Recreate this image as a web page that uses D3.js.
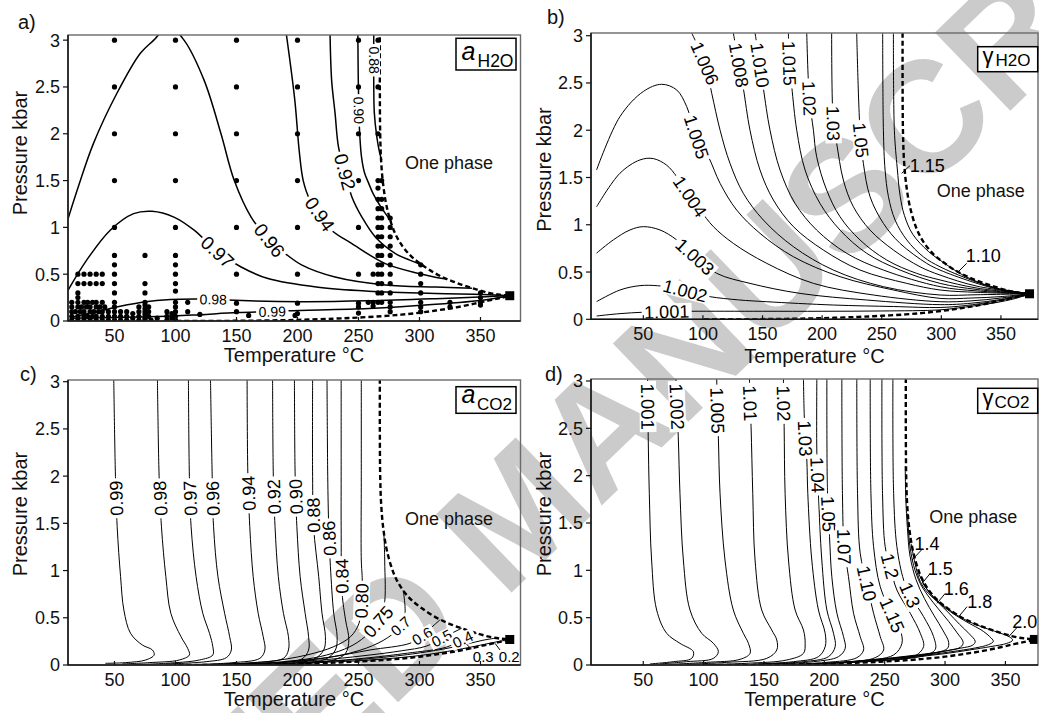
<!DOCTYPE html>
<html><head><meta charset="utf-8">
<script src="https://cdn.jsdelivr.net/npm/d3@7/dist/d3.min.js"></script>
<style>
html,body{margin:0;padding:0;background:#fff;}
svg{display:block;font-family:"Liberation Sans",Arial,Helvetica,sans-serif;}
</style></head><body>
<svg id="fig" width="1039" height="713"></svg>
<script>
// ---------------- shared data ----------------
const xTicks = [50,100,150,200,250,300,350];
const yTicks = [0,0.5,1,1.5,2,2.5,3];
const yTickLabels = ["0","0.5","1","1.5","2","2.5","3"];
const xTickLabels = ["50","100","150","200","250","300","350"];
const criticalPoint = [374,0.27];
const solvusUpper = [[267.5,3.03],[267.5,2.5],[267.8,2.0],[268.6,1.7],[270.3,1.45],[273.5,1.2],[279.5,0.95],[286,0.8],[293.3,0.69],[302,0.6],[312.7,0.51],[323,0.445],[334.8,0.387],[346,0.34],[356.9,0.3],[366,0.28],[374,0.27]];
const solvusLower = [[374,0.27],[366,0.245],[357,0.22],[345,0.185],[330,0.145],[315,0.115],[300,0.088],[285,0.068],[270,0.052],[250,0.037],[230,0.025],[200,0.012],[170,0.005],[140,0.0015],[100,0]];

// ---------------- panel a : a H2O ----------------
const aH2O_levels = ["0.88","0.90","0.92","0.94","0.96","0.97","0.98","0.99"];
const aH2O_lines = [
 [[262.5,3.06],[262.5,2.57],[263,2.22],[265,1.97],[267.3,1.8],[269,1.72]],
 [[249.5,3.06],[249.8,2.6],[250.3,2.25],[251,2.0],[252.5,1.75],[255,1.58],[258.4,1.47],[262,1.36],[266.6,1.255],[272,1.15],[277,1.06]],
 [[226.7,3.06],[228,2.57],[230.8,2.22],[233.6,1.86],[239,1.592],[244.6,1.325],[252.8,1.11],[263.8,0.898],[280.3,0.72],[292,0.65],[300.5,0.607]],
 [[190.9,3.06],[197.8,2.36],[201.4,1.82],[204.7,1.5],[210,1.3],[218.4,1.143],[228,0.97],[244.6,0.827],[272,0.613],[299.6,0.507],[312,0.47],[322,0.448]],
 [[12,1.094],[20,1.42],[32.7,1.895],[51.9,2.43],[71.2,2.86],[82.2,3.0],[94.5,3.15],[107,3.0],[123.5,2.57],[137.3,2.0],[148.2,1.5],[162,1.11],[177.1,0.862],[190,0.72],[203.3,0.6],[230.8,0.47],[272,0.385],[313.4,0.362],[343,0.35]],
 [[12,0.33],[27.2,0.65],[46.5,0.97],[65.7,1.147],[80.8,1.172],[98.7,1.11],[115.3,0.97],[134.5,0.738],[153.8,0.577],[175.8,0.453],[217,0.36],[258.3,0.318],[313.3,0.293],[351.8,0.283],[374,0.27]],
 [[16,0.043],[38.2,0.107],[54.7,0.157],[74,0.203],[96,0.229],[118,0.234],[131,0.232],[142.8,0.224],[203.3,0.206],[258.3,0.215],[313.3,0.238],[354.6,0.26],[374,0.27]],
 [[13.4,0.029],[60,0.04],[98.7,0.053],[120.7,0.068],[151,0.09],[179.3,0.1],[192.4,0.11],[258.3,0.133],[313.3,0.178],[354.6,0.228],[374,0.27]]
];
const aH2O_labelAt = [[262.5,2.786],[250.3,2.25],[239,1.592],[218.4,1.143],[177.1,0.862],[134.5,0.738],[131,0.232],[179.3,0.1]];
const aH2O_samples = [
 [50,3],[50,2.5],[50,2],[50,1.5],[50,1],[50,0.7],[50,0.6],[50,0.5],[50,0.4],[50,0.3],[50,0.2],[50,0.15],[50,0.1],[50,0.05],[50,0.01],
 [100,3],[100,2.5],[100,2],[100,1.5],[100,1],[100,0.7],[100,0.6],[100,0.5],[100,0.4],[100,0.32],[100,0.2],[100,0.15],[100,0.1],[100,0.05],[100,0.01],
 [150,3],[150,2.5],[150,2],[150,1.5],[150,1],[150,0.5],[150,0.19],[150,0.1],
 [200,3],[200,2.5],[200,2],[200,1.5],[200,1],[200,0.5],[200,0.19],[200,0.08],[198,0.06],
 [250,3],[250,2.5],[250,2],[250,1.5],[250,1],[250,0.5],[250,0.19],[250,0.085],
 [266,3],[266,2.5],[266,2],[266,1.5],[266,1.42],[266,1.3],[266,1.2],[266,1.1],[266,1],[266,0.9],[266,0.8],[266,0.7],[266,0.6],[266,0.5],[266,0.4],[266,0.3],[266,0.2],
 [269,1.5],[269,1.3],[269,1.2],[269,1.1],[269,1],[269,0.9],[269,0.8],[269,0.7],[269,0.6],[269,0.5],[269,0.4],[269,0.3],[269,0.2],
 [276,1.1],[276,1],[276,0.9],[276,0.8],[276,0.7],[276,0.6],[276,0.5],[276,0.4],[276,0.3],[276,0.2],[276,0.15],[276,0.1],
 [262,0.5],[262,0.2],[258,0.2],
 [301,0.6],[301,0.5],[301,0.4],[301,0.3],[301,0.2],[301,0.15],[301,0.1],
 [325,0.2],[325,0.15],
 [350,0.3],[350,0.25],[350,0.2],[350,0.17],
 [75,0.7],[75,0.4],[75,0.3],[75,0.2],[75,0.17],[75,0.13],[75,0.1],[75,0.07],[75,0.03],[75,0.01],
 [20,0.5],[25,0.5],[30,0.5],[35,0.5],[40,0.5],[20,0.4],[25,0.4],[30,0.4],[35,0.4],[40,0.4],[20,0.3],[20,0.25],
 [15,0.2],[20,0.2],[25,0.2],[28,0.2],[32,0.2],[35,0.2],[40,0.2],
 [15,0.15],[20,0.15],[23,0.15],[27,0.15],[30,0.15],[35,0.15],[38,0.15],[42,0.15],
 [15,0.1],[18,0.1],[22,0.1],[25,0.1],[30,0.1],[33,0.1],[37,0.1],[40,0.1],[45,0.1],
 [15,0.05],[20,0.05],[25,0.05],[28,0.05],[32,0.05],[35,0.05],[40,0.05],[45,0.05],
 [15,0.01],[20,0.01],[25,0.01],[30,0.01],[35,0.01],[40,0.01],[45,0.01],
 [55,0.1],[55,0.05],[55,0.01],[60,0.1],[60,0.05],[60,0.01],[65,0.08],[65,0.03],
 [70,0.15],[70,0.1],[70,0.05],[70,0.01],[78,0.15],[78,0.1],[78,0.05],[80,0.01],[85,0.03],
 [93,0.1],[93,0.05],[93,0.01],[97,0.08],[97,0.03],
 [110,0.2],[110,0.1],[120,0.07],[160,0.06],[262,0.16],[250,0.15]
];

// ---------------- panel b : gamma H2O ----------------
const gH2O_levels = ["1.001","1.002","1.003","1.004","1.005","1.006","1.008","1.010","1.015","1.02","1.03","1.05","1.10","1.15"];
const gH2O_lines = [
 [[10.8,0.035],[30.4,0.06],[50,0.075],[70,0.082],[90,0.085],[150,0.085],[200,0.085],[250,0.088],[299,0.1],[320,0.13],[345,0.175],[362,0.22],[374,0.27]],
 [[10.8,0.187],[30.4,0.31],[47.2,0.356],[62,0.355],[80,0.32],[95,0.27],[106,0.239],[130,0.205],[153.5,0.186],[209.4,0.151],[260,0.135],[299,0.125],[320,0.145],[345,0.19],[362,0.23],[374,0.27]],
 [[10.8,0.70],[24.8,0.84],[38.8,0.945],[50,0.98],[64,0.945],[78,0.84],[93.3,0.663],[111.6,0.486],[139.5,0.38],[181.5,0.274],[237.4,0.204],[299,0.155],[325,0.17],[350,0.21],[374,0.27]],
 [[10.8,1.19],[30.4,1.545],[47.2,1.686],[58.4,1.70],[69.6,1.63],[78,1.51],[89.2,1.30],[97.6,1.156],[108.8,0.98],[125.5,0.803],[153.5,0.592],[192.7,0.38],[243,0.257],[299,0.186],[325,0.195],[350,0.225],[374,0.27]],
 [[10.8,1.58],[30.4,2.144],[50,2.41],[65.4,2.486],[78,2.426],[86.4,2.25],[94.7,1.93],[104.6,1.72],[114.4,1.438],[128.3,1.156],[147.9,0.909],[175.9,0.662],[215,0.451],[259.8,0.31],[299,0.221],[325,0.225],[350,0.24],[374,0.27]],
 [[90.5,3.03],[101.7,2.708],[107.4,2.39],[114.4,2.0],[122.7,1.65],[133.9,1.332],[150.7,1.05],[175.9,0.768],[209.4,0.521],[251.4,0.345],[299,0.257],[330,0.26],[374,0.27]],
 [[125.5,3.03],[130.3,2.69],[133.9,2.443],[139.5,2.0],[147.9,1.579],[159.1,1.262],[175.9,0.98],[201,0.733],[231.8,0.521],[271,0.38],[299,0.31],[330,0.285],[374,0.27]],
 [[143.7,3.03],[147.9,2.69],[150.7,2.443],[156.3,2.0],[164.7,1.579],[177.3,1.226],[195.4,0.944],[220.6,0.698],[251.4,0.521],[299,0.345],[330,0.3],[374,0.27]],
 [[171.7,3.03],[172.5,2.707],[174.5,2.461],[178.7,2.0],[185.7,1.579],[198.2,1.226],[215,0.944],[237.4,0.698],[265.4,0.521],[299,0.38],[330,0.315],[374,0.27]],
 [[187.1,3.03],[189.3,2.337],[192.7,2.0],[195.4,1.72],[203.8,1.367],[215,1.085],[231.8,0.839],[254.2,0.627],[279.3,0.486],[299,0.416],[330,0.33],[374,0.27]],
 [[208,3.03],[209.4,2.073],[212.2,1.861],[217.8,1.473],[226.2,1.191],[240.2,0.944],[259.8,0.733],[282.1,0.556],[298.9,0.468],[330,0.35],[374,0.27]],
 [[229,3.03],[231.8,2.0],[234.6,1.65],[240.2,1.297],[251.4,1.015],[265.4,0.803],[287.7,0.592],[298.9,0.521],[325,0.4],[350,0.31],[374,0.27]],
 [[250.8,3.03],[251.4,2.0],[252.8,1.58],[255.6,1.30],[261.2,1.05],[271,0.84],[285,0.66],[298.9,0.556],[320,0.44],[345,0.33],[374,0.27]],
 [[259.8,3.03],[260.6,2.0],[263,1.6],[265.5,1.3],[269,1.1],[276,0.9],[289,0.72],[299,0.625],[320,0.455],[345,0.335],[374,0.27]]
];
const gH2O_labelAt = [[69.6,0.081],[85,0.3],[93.3,0.663],[89.2,1.3],[94.7,1.93],[101.7,2.708],[130.3,2.69],[147.9,2.69],[172.5,2.707],[189.3,2.337],[209.4,2.073],[232.4,1.896],null,null];
const gH2O_callouts = [["1.15",288.3,1.625,266.7,1.544,273.7,1.625],["1.10",335.2,0.673,312.9,0.487,321.3,0.592]];

// ---------------- panel c : a CO2 ----------------
const aCO2_levels = ["0.99","0.98","0.97","0.96","0.94","0.92","0.90","0.88","0.86","0.84","0.80","0.75","0.7","0.6","0.5","0.4","0.3","0.2"];
const aCO2_lines = [
 [[49.4,3.03],[50.8,1.994],[52.2,1.465],[55,0.935],[57.7,0.582],[63.2,0.335],[72.8,0.212],[81.1,0.159],[82.5,0.106],[75.6,0.053],[59.1,0.025],[42.6,0.018]],
 [[85.2,3.03],[86.6,1.994],[88.5,1.465],[92.1,0.935],[96.2,0.547],[104.5,0.30],[110,0.176],[111.4,0.106],[103.1,0.053],[78.4,0.025],[56.3,0.011]],
 [[110.6,3.03],[111.4,1.994],[112.8,1.465],[116.9,0.935],[122.4,0.547],[127.9,0.335],[130.6,0.194],[130.6,0.106],[119.6,0.053],[92.1,0.018],[64.6,0.004]],
 [[128.7,3.03],[130.1,1.994],[131.2,1.465],[134.8,0.935],[140.3,0.547],[144.4,0.30],[145.8,0.159],[141.7,0.078],[125.1,0.035],[92.1,0.011]],
 [[158.7,3.03],[159.3,2.03],[160.9,1.465],[163.7,0.935],[167.8,0.547],[171.9,0.30],[173.3,0.159],[169.2,0.071],[147.2,0.025],[119.6,0.007]],
 [[179.6,3.03],[180.2,1.994],[181.6,1.465],[184.3,0.935],[188.5,0.547],[192.6,0.30],[192.6,0.159],[188.5,0.071],[163.7,0.025],[133.4,0.007]],
 [[197.5,3.03],[198.1,1.994],[199.5,1.465],[202.2,0.935],[206.3,0.547],[209.1,0.30],[209.1,0.159],[203.6,0.064],[174.7,0.018],[147.2,0.004]],
 [[212.4,3.03],[212.4,1.994],[213.2,1.465],[217.4,0.935],[220.1,0.547],[222.9,0.30],[221.5,0.159],[213.2,0.06],[188.5,0.018],[160,0.005]],
 [[224.2,3.03],[224.8,1.994],[225.6,1.465],[227,1.041],[229.7,0.547],[232.5,0.30],[231.1,0.159],[222.9,0.06],[196.7,0.018],[170,0.005]],
 [[235.8,3.03],[235.8,1.994],[235.8,1.465],[236.6,0.759],[239.4,0.477],[242.1,0.265],[239.4,0.124],[229.7,0.053],[202.2,0.011],[175,0.003]],
 [[252.3,3.03],[252.3,1.994],[252.3,1.112],[253.1,0.90],[252.6,0.681],[250.4,0.441],[243.5,0.30],[229.7,0.194],[207.7,0.106],[174.7,0.035],[140,0.01]],
 [[130,0.006],[170,0.02],[202,0.053],[223.9,0.106],[243,0.194],[255.3,0.30],[266.2,0.459],[271,0.62],[271.5,1.1],[270.8,1.4]],
 [[150,0.008],[190,0.03],[229.3,0.088],[256.7,0.18],[274,0.29],[284.6,0.413],[288.1,0.53],[286.7,0.79]],
 [[190,0.035],[225,0.08],[259.4,0.159],[292.2,0.23],[302.3,0.307],[310,0.4],[317,0.48]],
 [[200,0.035],[230,0.065],[259.4,0.106],[285,0.15],[305.9,0.201],[318.2,0.283],[334.6,0.389]],
 [[210,0.03],[240,0.055],[259.4,0.078],[290,0.125],[322.3,0.19],[335.4,0.272],[346.9,0.338]],
 [[200,0.025],[250,0.058],[290,0.11],[320,0.17],[338.7,0.222],[352,0.262],[363,0.286]],
 [[200,0.02],[250,0.045],[300,0.1],[330,0.16],[350,0.21],[362,0.242],[374,0.27]]
];
const aCO2_labelAt = [[51.4,1.765],[86.6,1.765],[111.4,1.765],[130.1,1.765],[159.5,1.818],[180.2,1.783],[198,1.783],[212.8,1.588],[226,1.341],[236.2,0.942],[252.6,0.681],[266.2,0.459],[284.6,0.413],[302.3,0.307],[318.2,0.283],[335.4,0.272],null,null];
const aCO2_callouts = [["0.3",352.3,0.088,338.7,0.219,342.8,0.166],["0.2",373.6,0.088,361.9,0.23,366,0.159]];

// ---------------- panel d : gamma CO2 ----------------
const gCO2_levels = ["1.001","1.002","1.005","1.01","1.02","1.03","1.04","1.05","1.07","1.10","1.15","1.2","1.3","1.4","1.5","1.6","1.8","2.0"];
const gCO2_lines = [
 [[53.6,3.03],[54.1,2.41],[55,1.813],[56.9,1.109],[61.1,0.581],[69.4,0.335],[80.4,0.229],[91.5,0.141],[90.1,0.07],[74.9,0.035],[55.5,0.011]],
 [[77.1,3.03],[79,2.41],[80.4,1.813],[83.2,1.109],[88.7,0.581],[98.4,0.335],[108.1,0.229],[112.2,0.141],[108.1,0.07],[85.9,0.035],[63.8,0.011]],
 [[110.8,3.03],[112.2,2.41],[113.6,1.813],[117.7,1.109],[124.6,0.581],[132.9,0.335],[137.1,0.229],[138.5,0.123],[130.2,0.06],[102.5,0.028],[72.1,0.007]],
 [[137.9,3.03],[139.3,2.518],[140.7,1.813],[142.6,1.109],[148.1,0.581],[156.4,0.37],[160.6,0.264],[160.6,0.158],[152.3,0.07],[119.1,0.028],[86,0.007]],
 [[166.1,3.03],[166.7,2.518],[167.5,1.813],[170.3,1.109],[175.8,0.581],[182.7,0.37],[184.1,0.229],[182.7,0.123],[168.9,0.053],[135.7,0.018],[102.5,0.004]],
 [[182.7,3.03],[183.3,2.658],[184.3,2.394],[185.5,2.165],[186.3,1.813],[189.6,1.109],[195.1,0.581],[200.7,0.335],[200.7,0.194],[195.1,0.088],[174.4,0.035],[141.2,0.011]],
 [[193.8,3.03],[193.8,2.236],[195.1,1.813],[197.9,1.109],[202.1,0.581],[207.6,0.335],[209,0.194],[203.4,0.088],[182.7,0.035],[149.5,0.011]],
 [[202.1,3.03],[202.6,1.813],[204.3,1.356],[206.2,0.933],[210.4,0.546],[215.9,0.30],[217.3,0.176],[211.7,0.088],[191,0.035],[157.8,0.011]],
 [[214.5,3.03],[215,1.813],[216.4,1.25],[220,0.933],[224.2,0.546],[229.7,0.30],[232.5,0.158],[226.9,0.077],[202.1,0.028],[168.9,0.007]],
 [[226.9,3.03],[227.5,1.813],[229.7,1.18],[235.2,0.863],[240.8,0.546],[246.3,0.30],[249.1,0.158],[242.1,0.077],[213.1,0.028],[179.9,0.007]],
 [[238,3.03],[238.6,1.813],[240.8,1.25],[246.3,0.827],[256.3,0.528],[262.9,0.37],[264.3,0.229],[257.4,0.106],[226,0.04],[191,0.011]],
 [[247.7,3.03],[248.2,1.813],[250.4,1.25],[254.4,1.045],[260.1,0.792],[271.2,0.546],[279.5,0.335],[282.2,0.194],[273.9,0.088],[240,0.045],[200,0.018]],
 [[256.8,3.03],[257.4,1.813],[260.1,1.25],[265.7,0.898],[271,0.74],[282.2,0.511],[290.5,0.30],[291.9,0.165],[283,0.1],[260,0.06],[235,0.035],[205,0.015]],
 [[267,2.1],[267.5,1.75],[268.8,1.45],[271,1.15],[276,0.9],[283,0.7],[291,0.52],[298.5,0.36],[303,0.24],[302,0.175],[294,0.135],[278,0.1],[258,0.07],[238,0.048],[215,0.03]],
 [[269,1.6],[270.5,1.3],[274,1.05],[279.5,0.86],[286,0.73],[294,0.6],[303,0.46],[310,0.34],[315,0.24],[313,0.19],[303,0.155],[288,0.12],[268,0.088],[248,0.062],[228,0.042]],
 [[272,1.28],[275,1.08],[279.5,0.88],[286,0.76],[294.7,0.655],[303,0.55],[312,0.43],[320,0.33],[325,0.25],[323,0.21],[313,0.178],[298,0.143],[278,0.108],[258,0.078],[238,0.055]],
 [[278,0.97],[285,0.8],[293,0.68],[302,0.585],[311.3,0.505],[320,0.44],[330,0.37],[337,0.3],[340,0.25],[336,0.215],[325,0.18],[305,0.14],[285,0.105],[265,0.078],[245,0.055]],
 [[281.5,0.86],[292,0.7],[302,0.598],[312,0.51],[323,0.44],[335,0.383],[346,0.335],[353,0.3],[356,0.262],[351,0.228],[338,0.195],[320,0.158],[300,0.12],[280,0.09],[260,0.065]]
];
const gCO2_labelAt = [[54.1,2.73],[78,2.73],[111.5,2.69],[138.6,2.764],[166.4,2.764],[184.3,2.394],[194.2,2.007],[203.2,1.595],[216.4,1.25],[235.2,0.863],[256.3,0.528],[254.4,1.045],[271,0.74],null,null,null,null,null];
const gCO2_callouts = [["1.4",285,1.278,272.6,1.109,280.9,1.221],["1.5",296.1,1.021,280.9,0.862,287.8,0.968],["1.6",309.3,0.809,293.3,0.651,300.2,0.757],["1.8",328.7,0.669,311.3,0.51,318.2,0.616],["2.0",366,0.457,352.7,0.299,359.7,0.397]];

// ---------------- layout / style ----------------
const panels = [
 {id:"a", box:{l:68,r:520.5,t:35,b:321}, xd:[11.9,382.8], yd:[0,3.055], levels:aH2O_levels, lines:aH2O_lines, labelAt:aH2O_labelAt, callouts:[], samples:aH2O_samples,
  lw:1.5, fs:19, small:["0.88","0.90","0.98","0.99"], smallFs:14, flip:"down", calloutFs:18,
  letter:["a)",18,29], ytitle:[19.5,153], xtitle:[294,362], phase:[405,169],
  legend:{box:[456,38.3,60,31.7], main:"a", italic:true, mainFs:25, mx:461.5, my:60, sub:"H2O", subFs:17.5, sx:477.5, sy:66.5}},
 {id:"b", box:{l:591,r:1038,t:33,b:319.3}, xd:[6.1,381.1], yd:[0,3.0286], levels:gH2O_levels, lines:gH2O_lines, labelAt:gH2O_labelAt, callouts:gH2O_callouts, samples:[],
  lw:1, fs:18, small:[], smallFs:14, flip:"down", calloutFs:18,
  letter:["b)",547,24], ytitle:[543.5,169.5], xtitle:[814.5,363], phase:[936.7,197],
  legend:{box:[977.7,46.7,60,25], main:"γ", italic:false, mainFs:22, mx:982.5, my:63, sub:"H2O", subFs:17, sx:995.5, sy:66}},
 {id:"c", box:{l:68,r:520.5,t:380,b:665}, xd:[11.9,382.8], yd:[0,3.018], levels:aCO2_levels, lines:aCO2_lines, labelAt:aCO2_labelAt, callouts:aCO2_callouts, samples:[],
  lw:1, fs:18, small:["0.6","0.5","0.4","0.7"], smallFs:15, flip:"up", calloutFs:15,
  letter:["c)",20,381], ytitle:[19.5,514], xtitle:[294,706], phase:[405,525],
  legend:{box:[456,386.7,60,26.6], main:"a", italic:true, mainFs:25, mx:461.5, my:403, sub:"CO2", subFs:17, sx:477, sy:409.5}},
 {id:"d", box:{l:591,r:1038,t:379,b:665}, xd:[6.7,377], yd:[0,3.021], levels:gCO2_levels, lines:gCO2_lines, labelAt:gCO2_labelAt, callouts:gCO2_callouts, samples:[],
  lw:1, fs:18.5, small:[], smallFs:14, flip:"down", calloutFs:18,
  letter:["d)",545,381], ytitle:[543.5,514], xtitle:[814.5,706], phase:[929.3,523],
  legend:{box:[977.7,388.3,60,25], main:"γ", italic:false, mainFs:22, mx:982.5, my:405, sub:"CO2", subFs:17, sx:994.5, sy:408}}
];

const svg = d3.select("#fig");
svg.append("rect").attr("width",1039).attr("height",713).attr("fill","#fff");

// watermark
svg.append("text")
  .attr("transform","translate(515,510) rotate(-44)")
  .attr("text-anchor","middle").attr("dy","0.36em")
  .style("font-size","158px").style("font-weight","bold")
  .attr("fill","#cbcbcb").text("ACCEPTED MANUSCRIPT");

function placeLabel(g, pts, text, at, fs, flip){
  let best=null;
  for(let i=0;i<pts.length-1;i++){
    const [x1,y1]=pts[i],[x2,y2]=pts[i+1];
    const dx=x2-x1, dy=y2-y1, L2=dx*dx+dy*dy;
    let t=L2?((at[0]-x1)*dx+(at[1]-y1)*dy)/L2:0;
    t=Math.max(0,Math.min(1,t));
    const px=x1+t*dx, py=y1+t*dy;
    const d=(px-at[0])**2+(py-at[1])**2;
    if(!best||d<best.d) best={d,px,py,ang:Math.atan2(dy,dx)*180/Math.PI};
  }
  let a=best.ang;
  while(a>90)a-=180; while(a<=-90)a+=180;
  if(flip==="down" && a<-45) a+=180;
  if(flip==="up" && a>45) a-=180;
  const lg=g.append("g").attr("transform",`translate(${best.px},${best.py}) rotate(${a})`);
  const t=lg.append("text").attr("text-anchor","middle").attr("dy","0.36em")
    .style("font-size",fs+"px").attr("fill","#000").text(text);
  const bb=t.node().getBBox();
  lg.insert("rect","text").attr("x",bb.x-2.5).attr("y",-0.45*fs).attr("width",bb.width+5).attr("height",0.9*fs).attr("fill","#fff");
}

function drawPanel(p){
  const x=d3.scaleLinear().domain(p.xd).range([p.box.l,p.box.r]);
  const y=d3.scaleLinear().domain(p.yd).range([p.box.b,p.box.t]);
  const g=svg.append("g");
  const clipId="clip-"+p.id;
  svg.append("defs").append("clipPath").attr("id",clipId).append("rect")
    .attr("x",p.box.l).attr("y",p.box.t).attr("width",p.box.r-p.box.l).attr("height",p.box.b-p.box.t);
  const line=d3.line().x(d=>x(d[0])).y(d=>y(d[1])).curve(d3.curveCatmullRom.alpha(0.5));
  const cg=g.append("g").attr("clip-path",`url(#${clipId})`);
  p.lines.forEach(pts=>{
    cg.append("path").attr("d",line(pts)).attr("fill","none").attr("stroke","#000").attr("stroke-width",p.lw);
  });
  cg.append("path").attr("d",line(solvusUpper.concat(solvusLower.slice(1))))
    .attr("fill","none").attr("stroke","#000").attr("stroke-width",2.4).attr("stroke-dasharray","5,3");
  cg.selectAll("circle.s").data(p.samples).enter().append("circle")
    .attr("cx",d=>x(d[0])).attr("cy",d=>y(d[1])).attr("r",2.6).attr("fill","#000");
  cg.append("rect").attr("x",x(criticalPoint[0])-4.5).attr("y",y(criticalPoint[1])-4.5).attr("width",9).attr("height",9).attr("fill","#000");
  const lgp=g.append("g");
  p.levels.forEach((lev,i)=>{
    const at=p.labelAt[i]; if(!at) return;
    const pts=p.lines[i].map(d=>[x(d[0]),y(d[1])]);
    const fs=p.small.includes(lev)?p.smallFs:p.fs;
    placeLabel(lgp,pts,lev,[x(at[0]),y(at[1])],fs,p.flip);
  });
  p.callouts.forEach(c=>{
    g.append("line").attr("x1",x(c[3])).attr("y1",y(c[4])).attr("x2",x(c[5])).attr("y2",y(c[6])).attr("stroke","#000").attr("stroke-width",1);
    g.append("text").attr("x",x(c[1])).attr("y",y(c[2])).attr("dy","0.36em").attr("text-anchor","middle")
      .style("font-size",p.calloutFs+"px").text(c[0]);
  });
  g.append("rect").attr("x",p.box.l).attr("y",p.box.t).attr("width",p.box.r-p.box.l).attr("height",p.box.b-p.box.t)
    .attr("fill","none").attr("stroke","#6a6a6a").attr("stroke-width",1.4);
  g.append("line").attr("x1",p.box.l).attr("x2",p.box.l).attr("y1",p.box.t).attr("y2",p.box.b).attr("stroke","#111").attr("stroke-width",1.5);
  g.append("line").attr("x1",p.box.l).attr("x2",p.box.r).attr("y1",p.box.b).attr("y2",p.box.b).attr("stroke","#111").attr("stroke-width",1.5);
  yTicks.forEach((v,i)=>{
    g.append("line").attr("x1",p.box.l-5).attr("x2",p.box.l).attr("y1",y(v)).attr("y2",y(v)).attr("stroke","#111").attr("stroke-width",1.2);
    g.append("text").attr("x",p.box.l-8).attr("y",y(v)).attr("dy","0.36em").attr("text-anchor","end")
      .style("font-size","18px").attr("fill","#111").text(yTickLabels[i]);
  });
  xTicks.forEach((v,i)=>{
    g.append("line").attr("x1",x(v)).attr("x2",x(v)).attr("y1",p.box.b).attr("y2",p.box.b-4).attr("stroke","#111").attr("stroke-width",1.2);
    g.append("text").attr("x",x(v)).attr("y",p.box.b+20.5).attr("text-anchor","middle")
      .style("font-size","18px").attr("fill","#111").text(xTickLabels[i]);
  });
  g.append("text").attr("transform",`translate(${p.ytitle[0]},${p.ytitle[1]}) rotate(-90)`).attr("dy","0.36em").attr("text-anchor","middle")
    .style("font-size","20px").attr("fill","#111").text("Pressure kbar");
  g.append("text").attr("x",p.xtitle[0]).attr("y",p.xtitle[1]).attr("text-anchor","middle")
    .style("font-size","20px").attr("fill","#111").text("Temperature °C");
  g.append("text").attr("x",p.letter[1]).attr("y",p.letter[2]).style("font-size","20px").attr("fill","#111").text(p.letter[0]);
  g.append("text").attr("x",p.phase[0]).attr("y",p.phase[1]).style("font-size","18px").attr("fill","#111").text("One phase");
  const L=p.legend;
  g.append("rect").attr("x",L.box[0]).attr("y",L.box[1]).attr("width",L.box[2]).attr("height",L.box[3])
    .attr("fill","#fff").attr("stroke","#000").attr("stroke-width",1.5);
  g.append("text").attr("x",L.mx).attr("y",L.my).style("font-size",L.mainFs+"px").style("font-style",L.italic?"italic":"normal").text(L.main);
  g.append("text").attr("x",L.sx).attr("y",L.sy).style("font-size",L.subFs+"px").text(L.sub);
}
panels.forEach(drawPanel);
</script>
</body></html>
